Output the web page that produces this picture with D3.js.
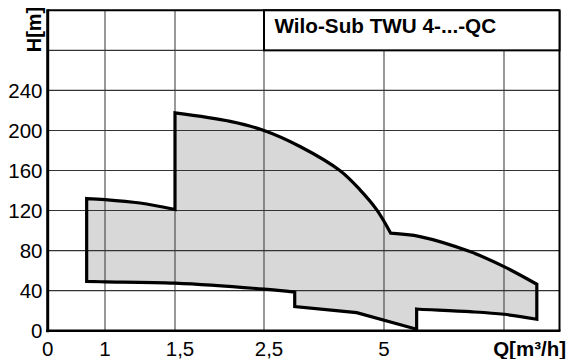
<!DOCTYPE html>
<html><head><meta charset="utf-8">
<script src="https://cdn.jsdelivr.net/npm/d3@7"></script>
<style>body{margin:0;background:#fff} svg{display:block}</style>
</head><body>
<svg id="c" width="566" height="359"></svg>
<script>
// ---- data ----
const xBreaks = [0, 1, 1.5, 2.5, 5, 7.5, 8.65];
const xTickValues = [0, 1, 1.5, 2.5, 5];
const xTickLabels = ["0", "1", "1,5", "2,5", "5"];
const xGridValues = [1, 1.5, 2.5, 5, 7.5];
const yTickValues = [0, 40, 80, 120, 160, 200, 240];
const yGridValues = [40, 80, 120, 160, 200, 240, 280];
const yMax = 320;
const title = "Wilo-Sub TWU 4-...-QC";
const xLabel = "Q[m³/h]";
const yLabel = "H[m]";
// envelope outline segments [Q, H], in drawing order
const segLeftTop = [[0.68,132],[1,131],[1.25,127.5],[1.5,121]];
const segMainTop = [[1.5,217.5],[2.12,209],[2.5,200],[3.25,184],[4.08,160],[4.5,140.7],[4.85,120.7],[5.14,97.4]];
const segRightTop = [[5.14,97.4],[5.75,94],[6.79,79],[7.5,64],[8.18,46.4]];
const segRightBottom = [[8.18,11.4],[7.5,16.4],[6.79,19],[5.75,21.4],[5.68,21.7]];
const segMidBottom = [[5.68,1.5],[4.43,18],[3.14,24]];
const segLeftBottom = [[3.14,38.5],[2.5,41.5],[1.5,47.5],[1,48.8],[0.68,49.2]];

// ---- layout ----
const font = "'Liberation Sans', Arial, sans-serif";
const svg = d3.select("#c");
const x = d3.scaleLinear().domain(xBreaks).range([47.7, 105, 175, 264, 384, 504, 559.5]);
const y = d3.scaleLinear().domain([0, yMax]).range([330.7, 10.3]);
const x0 = x(xBreaks[0]), x1 = x(xBreaks[xBreaks.length-1]);
const y0 = y(0), y1 = y(yMax);

const curved = d3.line().x(d => x(d[0])).y(d => y(d[1])).curve(d3.curveCatmullRom.alpha(0.5));
const straight = d3.line().x(d => x(d[0])).y(d => y(d[1]));
const segs = [segLeftTop, segMainTop, segRightTop, segRightBottom, segMidBottom, segLeftBottom];
const pathD = segs.map((s, i) => {
  const d = (s === segMidBottom ? straight : curved)(s);
  return i === 0 ? d : d.replace(/^M/, "L");
}).join("") + "Z";

// fill
svg.append("path").attr("d", pathD).attr("fill", "#d8d8d8").attr("stroke", "none");

// grid
const g = svg.append("g");
g.selectAll("line.v").data(xGridValues).join("line")
  .attr("x1", d => x(d)).attr("x2", d => x(d)).attr("y1", y0).attr("y2", y1)
  .attr("stroke", "#444").attr("stroke-width", 1.1);
g.selectAll("line.h").data(yGridValues).join("line")
  .attr("x1", x0).attr("x2", x1).attr("y1", d => y(d)).attr("y2", d => y(d))
  .attr("stroke", "#333").attr("stroke-width", 1.1);

// outline
svg.append("path").attr("d", pathD).attr("fill", "none").attr("stroke", "#000")
  .attr("stroke-width", 3.2).attr("stroke-linejoin", "miter");

// frame
svg.append("line").attr("x1", x0).attr("x2", x1).attr("y1", y1).attr("y2", y1).attr("stroke", "#000").attr("stroke-width", 2);
svg.append("line").attr("x1", x1).attr("x2", x1).attr("y1", y1).attr("y2", y0).attr("stroke", "#000").attr("stroke-width", 2);
svg.append("line").attr("x1", x0).attr("x2", x0).attr("y1", y1 - 1).attr("y2", y0 + 1.5).attr("stroke", "#000").attr("stroke-width", 3);
svg.append("line").attr("x1", x0 - 1.5).attr("x2", x1 + 1).attr("y1", y0).attr("y2", y0).attr("stroke", "#000").attr("stroke-width", 2.5);

// title box
svg.append("rect").attr("x", x(2.5)).attr("y", y(yMax)).attr("width", x1 - x(2.5)).attr("height", y(280) - y(yMax))
  .attr("fill", "#fff").attr("stroke", "#000").attr("stroke-width", 2);
svg.append("text").attr("x", x(2.5) + 10.5).attr("y", 33.3).text(title)
  .attr("font-family", font).attr("font-weight", "bold").attr("font-size", "20.7px").attr("fill", "#000");

// y tick labels
svg.selectAll("text.yt").data(yTickValues).join("text")
  .attr("x", 42.5).attr("y", d => y(d)).attr("dy", "0.35em").attr("text-anchor", "end")
  .attr("font-family", font).attr("font-size", "20.5px").attr("fill", "#000").text(d => d);

// x tick labels
svg.selectAll("text.xt").data(xTickValues).join("text")
  .attr("x", d => x(d)).attr("y", 356).attr("text-anchor", "middle")
  .attr("dx", (d, i) => xTickLabels[i].includes(",") ? 5 : 0)
  .attr("font-family", font).attr("font-size", "20.5px").attr("fill", "#000").text((d, i) => xTickLabels[i]);

// axis titles
svg.append("text").attr("x", 566).attr("y", 356).attr("text-anchor", "end")
  .attr("font-family", font).attr("font-weight", "bold").attr("font-size", "20.5px").text(xLabel);
svg.append("text").attr("transform", "translate(40.5,29.5) rotate(-90)").attr("text-anchor", "middle")
  .attr("font-family", font).attr("font-weight", "bold").attr("font-size", "20px").text(yLabel);
</script>
</body></html>
